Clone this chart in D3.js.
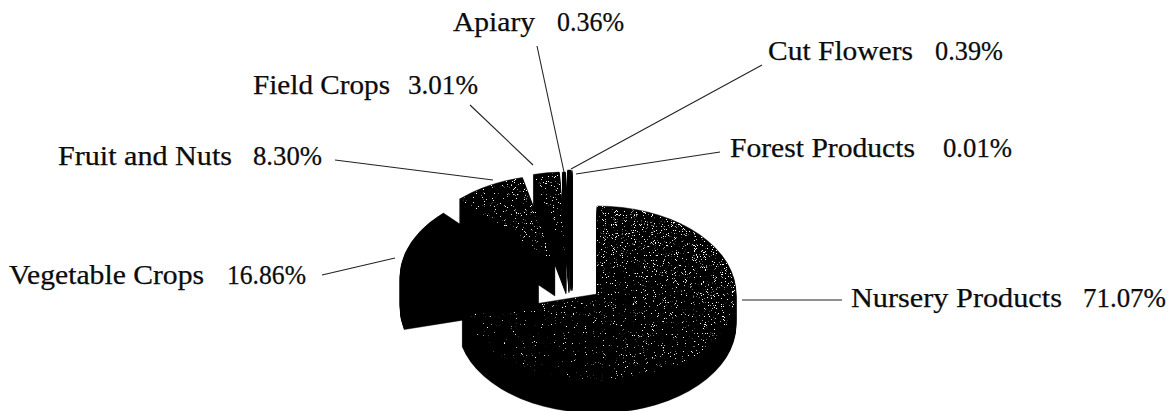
<!DOCTYPE html>
<html><head><meta charset="utf-8">
<script src="https://cdn.jsdelivr.net/npm/d3@7"></script>
<style>html,body{margin:0;background:#fff}svg{display:block}text{font-family:"Liberation Serif",serif;fill:#0c0c0c;stroke:#0c0c0c;stroke-width:.25}</style>
</head><body><svg id="c" width="1175" height="411"></svg>
<script>
const categories=["Nursery Products","Vegetable Crops","Fruit and Nuts","Field Crops","Apiary","Cut Flowers","Forest Products"];
const shares=[71.07,16.86,8.30,3.01,0.36,0.39,0.01];
const shareLabels=["71.07%","16.86%","8.30%","3.01%","0.36%","0.39%","0.01%"];

const rx=139, ry=88;
const depths=[31,31,33,34,33,33,33];
const apex=[[597,294],[539,277],[555,263],[566,260],[569,260],[571,258],[572,258]];
// name start, name end, percent start, percent end, baseline
const labelAt=[[851,1062,1083,1166,307],[9,204,227,306,284],[58,232,253,322,165],[253,390,408,478,94],[453,535,557,624,31],[768,913,935,1003,60],[730,915,943,1012,157]];
const leaders=[[742,300,842,300],[322,275,395,258],[335,160,493,180],[470,105,533,165],[537,46,564,172],[762,65,571,169],[720,152,576,174]];
const drawOrder=[6,5,4,3,2,1,0];
const speckled=[0,2,3];

const svg=d3.select("#c");
const defs=svg.append("defs");
const grad=defs.append("linearGradient").attr("id","dens").attr("x1",1).attr("y1",0).attr("x2",0).attr("y2",1);
grad.append("stop").attr("offset",0).attr("stop-color","#000").attr("stop-opacity",1);
grad.append("stop").attr("offset",1).attr("stop-color","#000").attr("stop-opacity",0.55);
const f=defs.append("filter").attr("id","speck").attr("x",0).attr("y",0).attr("width",1).attr("height",1);
f.append("feTurbulence").attr("type","fractalNoise").attr("baseFrequency",1.1).attr("numOctaves",2).attr("seed",7).attr("result","n");
f.append("feColorMatrix").attr("in","n").attr("type","matrix")
 .attr("values","0 0 0 0 1  0 0 0 0 1  0 0 0 0 1  1 0 0 0 0").attr("result","na");
f.append("feComposite").attr("in","na").attr("in2","SourceAlpha").attr("operator","arithmetic")
 .attr("k1",0).attr("k2",1).attr("k3",0.3).attr("k4",0).attr("result","sum");
f.append("feColorMatrix").attr("in","sum").attr("type","matrix")
 .attr("values","0 0 0 0 1  0 0 0 0 1  0 0 0 0 1  0 0 0 9 -8.2").attr("result","w");
f.append("feComposite").attr("in","w").attr("in2","SourceAlpha").attr("operator","in").attr("result","c");
f.append("feColorMatrix").attr("in","c").attr("type","matrix")
 .attr("values","0 0 0 0 1  0 0 0 0 1  0 0 0 0 1  0 0 0 2 0");

const pie=d3.pie().sort(null).value(d=>d)(shares);
const arc=d3.arc().innerRadius(0).outerRadius(rx);
const k=ry/rx;
const place=(i,dy)=>`translate(${apex[i][0]},${apex[i][1]+dy}) scale(1,${k})`;

drawOrder.forEach(i=>{
  const g=svg.append("g").attr("class","slice");
  g.selectAll("path.wall").data(d3.range(depths[i],0,-1)).join("path").attr("class","wall")
    .attr("d",arc(pie[i])).attr("transform",d=>place(i,d)).attr("fill","#000").attr("stroke","#000").attr("stroke-width",0.6);
  g.append("path").attr("d",arc(pie[i])).attr("transform",place(i,0)).attr("fill","#000").attr("stroke","#000").attr("stroke-width",0.6);
  if(speckled.includes(i)) g.append("g").attr("filter","url(#speck)")
    .append("path").attr("d",arc(pie[i])).attr("transform",place(i,0)).attr("fill","url(#dens)");
});

svg.append("g").selectAll("line").data(leaders).join("line")
  .attr("x1",d=>d[0]).attr("y1",d=>d[1]).attr("x2",d=>d[2]).attr("y2",d=>d[3])
  .attr("stroke","#222").attr("stroke-width",1.1);

const t=svg.append("g").attr("font-size",27);
t.selectAll("text.n").data(categories).join("text").attr("class","n")
  .attr("x",(d,i)=>labelAt[i][0]).attr("y",(d,i)=>labelAt[i][4])
  .attr("textLength",(d,i)=>labelAt[i][1]-labelAt[i][0]).attr("lengthAdjust","spacingAndGlyphs").text(d=>d);
t.selectAll("text.v").data(shareLabels).join("text").attr("class","v")
  .attr("x",(d,i)=>labelAt[i][2]).attr("y",(d,i)=>labelAt[i][4])
  .attr("textLength",(d,i)=>labelAt[i][3]-labelAt[i][2]).attr("lengthAdjust","spacingAndGlyphs").text(d=>d);
</script></body></html>
